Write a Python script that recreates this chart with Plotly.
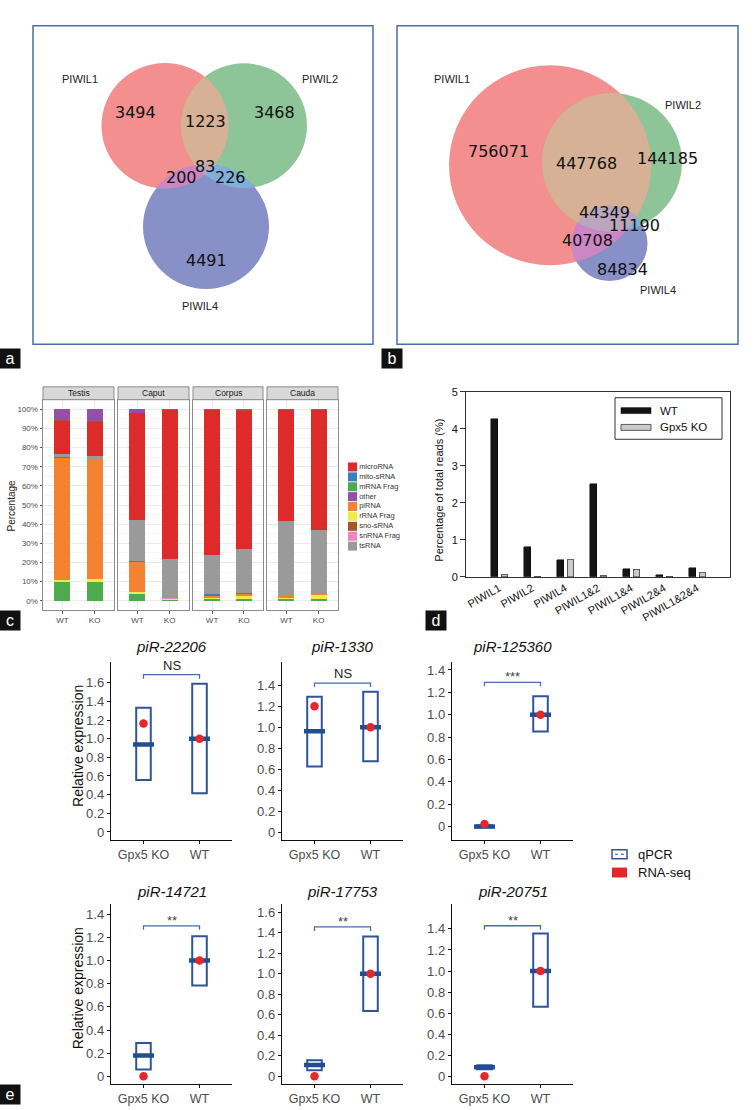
import numpy as np
import plotly.graph_objects as go

W, H = 756, 1110


def px(x):
    return x / W


def py(y):
    return 1 - y / H


# ---------------- DATA ----------------
VENN_NAMES = ["PIWIL1", "PIWIL2", "PIWIL4"]
# regions: only1, 1&2, only2, 1&2&4, 1&4, 2&4, only4
VENN_A_COUNTS = [3494, 1223, 3468, 83, 200, 226, 4491]
VENN_B_COUNTS = [756071, 447768, 144185, 44349, 40708, 11190, 84834]

C_TISSUES = ["Testis", "Caput", "Corpus", "Cauda"]
C_GROUPS = ["WT", "KO"]
# percentages per sample: Testis WT, Testis KO, Caput WT, Caput KO, Corpus WT, Corpus KO, Cauda WT, Cauda KO
MRNA_FRAG = [9.9, 9.9, 3.6, 0.6, 1.0, 1.1, 0.8, 1.2]
RRNA_FRAG = [1.1, 1.7, 1.2, 0.6, 0.6, 1.4, 0.8, 1.8]
SNRNA_FRAG = [0.05, 0.05, 0.05, 0.05, 0.05, 0.05, 0.05, 0.05]
PIRNA = [63.7, 62.4, 15.6, 0.8, 1.0, 1.0, 0.7, 0.8]
MITO_SRNA = [0.1, 0.1, 0.1, 0.1, 1.0, 0.3, 0.1, 0.4]
TSRNA = [1.6, 1.4, 21.6, 19.5, 20.2, 23.4, 39.2, 32.8]
MICRORNA = [17.55, 17.95, 55.65, 78.05, 75.85, 71.95, 58.05, 62.65]
SNO_SRNA = [0.3, 0.3, 0.3, 0.1, 0.1, 0.3, 0.1, 0.1]
OTHER = [5.7, 6.2, 1.9, 0.2, 0.2, 0.5, 0.2, 0.2]
C_LEGEND = ["microRNA", "mito-sRNA", "mRNA Frag", "other", "piRNA",
            "rRNA Frag", "sno-sRNA", "snRNA Frag", "tsRNA"]
PCT_TICKS = [0, 0.1, 0.2, 0.3, 0.4, 0.5, 0.6, 0.7, 0.8, 0.9, 1.0]
PCT_LABELS = ["0%", "10%", "20%", "30%", "40%", "50%", "60%", "70%", "80%", "90%", "100%"]

D_CATS = ["PIWIL1", "PIWIL2", "PIWIL4", "PIWIL1&2", "PIWIL1&4", "PIWIL2&4", "PIWIL1&2&4"]
D_WT = [4.27, 0.81, 0.46, 2.52, 0.22, 0.05, 0.24]
D_KO = [0.05, 0.01, 0.46, 0.03, 0.20, 0.01, 0.11]
D_SERIES = ["WT", "Gpx5 KO"]

E_TITLES = ["piR-22206", "piR-1330", "piR-125360", "piR-14721", "piR-17753", "piR-20751"]
E_CATS = ["Gpx5 KO", "WT"]
E_Q_LOW = [[0.556, 0.414], [0.626, 0.676], [0.0, 0.85], [0.06, 0.784], [0.058, 0.636], [0.066, 0.661]]
E_Q_MED = [[0.937, 1.0], [0.96, 1.0], [0.0, 1.0], [0.18, 1.0], [0.109, 1.0], [0.085, 1.0]]
E_Q_HIGH = [[1.333, 1.588], [1.29, 1.337], [0.012, 1.165], [0.288, 1.21], [0.157, 1.362], [0.106, 1.356]]
E_RNASEQ = [[1.163, 1.0], [1.20, 1.0], [0.024, 1.0], [0.0, 1.0], [0.0, 1.0], [0.0, 1.0]]
E_SIG = ["NS", "NS", "***", "**", "**", "**"]
E_BRACKET = [1.686, 1.42, 1.29, 1.30, 1.455, 1.43]
E_YTICKS = [
    [0, 0.2, 0.4, 0.6, 0.8, 1.0, 1.2, 1.4, 1.6],
    [0, 0.2, 0.4, 0.6, 0.8, 1.0, 1.2, 1.4],
    [0, 0.2, 0.4, 0.6, 0.8, 1.0, 1.2, 1.4],
    [0, 0.2, 0.4, 0.6, 0.8, 1.0, 1.2, 1.4],
    [0, 0.2, 0.4, 0.6, 0.8, 1.0, 1.2, 1.4, 1.6],
    [0, 0.2, 0.4, 0.6, 0.8, 1.0, 1.2, 1.4],
]
E_LEGEND = ["qPCR", "RNA-seq"]

# ---------------- STYLE / LAYOUT CONSTANTS ----------------
FONT = "Liberation Sans, Arial, sans-serif"
BLUE = "#2E5597"
MED_BLUE = "#1F4F91"
RED = "#E8262A"
C_COLORS = {"microRNA": "#DD2B2B", "mito-sRNA": "#3A7EBB", "mRNA Frag": "#4DAA4F",
            "other": "#9450A8", "piRNA": "#F58230", "rRNA Frag": "#F2EA4A",
            "sno-sRNA": "#A65628", "snRNA Frag": "#F282C0", "tsRNA": "#9A9A9A"}
C_STACK = [("mRNA Frag", MRNA_FRAG), ("rRNA Frag", RRNA_FRAG), ("snRNA Frag", SNRNA_FRAG),
           ("piRNA", PIRNA), ("mito-sRNA", MITO_SRNA), ("tsRNA", TSRNA),
           ("microRNA", MICRORNA), ("sno-sRNA", SNO_SRNA), ("other", OTHER)]

fig = go.Figure()
shapes = []
annots = []
layout = dict(width=W, height=H, margin=dict(l=0, r=0, t=0, b=0),
              paper_bgcolor="white", plot_bgcolor="white", showlegend=False,
              barmode="stack", font=dict(family=FONT, color="#222"))


def ann(x, y, text, size, color="#111", **kw):
    d = dict(x=px(x), y=py(y), xref="paper", yref="paper", text=text, showarrow=False,
             xanchor="center", yanchor="middle", font=dict(size=size, color=color))
    d.update(kw)
    annots.append(d)


# ---------------- Venn panels (a, b) ----------------
VENN_A_GEOM = [(165, 121, 63.5), (244, 121, 63), (206, 223, 63)]
VENN_B_GEOM = [(550, 161, 101), (612, 158, 70), (609.5, 240, 38)]
VENN_A_TXT = [(135, 108), (205, 117), (274, 108), (205, 162), (181, 173), (230, 173), (206, 257)]
VENN_B_TXT = [(499, 147), (586, 159), (667, 154), (604, 209), (587, 237), (634, 222), (622, 266)]
VENN_A_LBL = [(80, 74), (320, 74), (200, 303)]
VENN_B_LBL = [(452, 74), (683, 100), (658, 287)]
VC = {"R": "rgb(243,143,143)", "G": "rgb(141,196,152)", "B": "rgb(136,144,200)",
      "RG": "rgb(214,177,150)", "RB": "rgb(204,134,196)", "GB": "rgb(128,176,218)",
      "RGB": "rgb(188,166,190)"}


def circ_pts(c, n=720):
    cx, cy, r = c
    t = np.linspace(0, 2 * np.pi, n, endpoint=False)
    return np.column_stack([cx + r * np.cos(t), cy + r * np.sin(t)])


def inter_poly(circles):
    pts = []
    for i, c in enumerate(circles):
        P = circ_pts(c)
        m = np.ones(len(P), bool)
        for j, d in enumerate(circles):
            if j != i:
                m &= (P[:, 0] - d[0]) ** 2 + (P[:, 1] - d[1]) ** 2 <= d[2] ** 2
        pts.append(P[m])
    P = np.vstack(pts)
    cx, cy = P.mean(0)
    return P[np.argsort(np.arctan2(P[:, 1] - cy, P[:, 0] - cx))]


def path_of(P):
    return "M " + " L ".join(f"{px(x):.5f},{py(y):.5f}" for x, y in P) + " Z"


def venn(geom, counts, txt, lbl, box):
    shapes.append(dict(type="rect", xref="paper", yref="paper", x0=px(box[0]), x1=px(box[1]),
                       y0=py(box[3]), y1=py(box[2]), line=dict(color="#4A6FA5", width=1.5)))
    for (cx, cy, r), k in zip(geom, ["R", "G", "B"]):
        shapes.append(dict(type="circle", xref="paper", yref="paper", x0=px(cx - r), x1=px(cx + r),
                           y0=py(cy + r), y1=py(cy - r), fillcolor=VC[k], line=dict(width=0)))
    R, G, B = geom
    for combo, k in [((R, G), "RG"), ((R, B), "RB"), ((G, B), "GB"), ((R, G, B), "RGB")]:
        shapes.append(dict(type="path", xref="paper", yref="paper", path=path_of(inter_poly(combo)),
                           fillcolor=VC[k], line=dict(width=0)))
    for (x, y), v in zip(txt, counts):
        ann(x, y, str(v), 16, "#111")
        annots[-1]["font"]["family"] = "DejaVu Sans"
    for (x, y), name in zip(lbl, VENN_NAMES):
        ann(x, y, name, 11, "#222")


venn(VENN_A_GEOM, VENN_A_COUNTS, VENN_A_TXT, VENN_A_LBL, (33, 373, 20, 342))
venn(VENN_B_GEOM, VENN_B_COUNTS, VENN_B_TXT, VENN_B_LBL, (397, 738, 20, 342))

# ---------------- Panel c: stacked bars ----------------
C_XDOM = [(43, 114), (118, 189), (193, 263), (267, 338)]
C_YDOM = (398, 611)
for i, tissue in enumerate(C_TISSUES):
    n = "" if i == 0 else str(i + 1)
    for name, vals in C_STACK:
        fig.add_trace(go.Bar(x=C_GROUPS, y=[v / 100 for v in vals[2 * i:2 * i + 2]], name=name,
                             width=0.5, marker=dict(color=C_COLORS[name], line=dict(width=0)),
                             xaxis="x" + n, yaxis="y" + n, hoverinfo="skip"))
    layout["xaxis" + n] = dict(domain=[px(C_XDOM[i][0]), px(C_XDOM[i][1])], anchor="y" + n,
                               type="category", categoryarray=C_GROUPS, range=[-0.6, 1.6],
                               showline=True, mirror=True, linecolor="#8C8C8C", linewidth=1,
                               showgrid=True, gridcolor="#EBEBEB", zeroline=False,
                               ticks="outside", ticklen=2.5, tickcolor="#555",
                               tickfont=dict(size=8, color="#4D4D4D"))
    layout["yaxis" + n] = dict(domain=[py(C_YDOM[1]), py(C_YDOM[0])], anchor="x" + n,
                               range=[-0.05, 1.05], tickvals=PCT_TICKS, ticktext=PCT_LABELS,
                               showticklabels=(i == 0), ticks="outside" if i == 0 else "",
                               ticklen=2.5, tickcolor="#555",
                               tickfont=dict(size=8, color="#4D4D4D"),
                               showline=True, mirror=True, linecolor="#8C8C8C", linewidth=1,
                               showgrid=True, gridcolor="#EBEBEB", zeroline=False,
                               minor=dict(tickvals=[0.05 + 0.1 * k for k in range(10)],
                                          showgrid=True, gridcolor="#F6F6F6", ticks=""))
    shapes.append(dict(type="rect", xref="paper", yref="paper", x0=px(C_XDOM[i][0]), x1=px(C_XDOM[i][1]),
                       y0=py(398), y1=py(385), fillcolor="#D9D9D9", line=dict(color="#8C8C8C", width=1)))
    ann((C_XDOM[i][0] + C_XDOM[i][1]) / 2, 391.5, tissue, 8.5, "#1A1A1A")
ann(12, 505, "Percentage", 10, "#222", textangle=-90)

# legend for c (drawn on a hidden axis)
fig.add_trace(go.Scatter(x=[0] * len(C_LEGEND), y=C_LEGEND, mode="markers+text", text=C_LEGEND,
                         textposition="middle right", textfont=dict(size=7.5, color="#333"),
                         marker=dict(symbol="square", size=9, color=[C_COLORS[k] for k in C_LEGEND]),
                         xaxis="x12", yaxis="y12", hoverinfo="skip"))
layout["xaxis12"] = dict(domain=[px(348), px(420)], anchor="y12", range=[-4.5, 67.5], visible=False)
layout["yaxis12"] = dict(domain=[py(551), py(461)], anchor="x12", type="category",
                         categoryarray=C_LEGEND, range=[8.5, -0.5], visible=False)

# ---------------- Panel d: grouped bars ----------------
fig.add_trace(go.Bar(x=D_CATS, y=D_WT, name=D_SERIES[0], width=0.21, offset=-0.255,
                     marker=dict(color="#141414", line=dict(color="#000", width=0.5)),
                     xaxis="x5", yaxis="y5", hoverinfo="skip"))
fig.add_trace(go.Bar(x=D_CATS, y=D_KO, name=D_SERIES[1], width=0.19, offset=0.07,
                     marker=dict(color="#CACACA", line=dict(color="#3A3A3A", width=0.8)),
                     xaxis="x13", yaxis="y5", hoverinfo="skip"))
layout["xaxis5"] = dict(domain=[px(466), px(730)], anchor="y5", type="category", categoryarray=D_CATS,
                        range=[-1, 7], showline=True, mirror=True, linecolor="#333", linewidth=1,
                        ticks="", tickangle=-30, tickfont=dict(size=11, color="#111"), showgrid=False)
layout["xaxis13"] = dict(overlaying="x5", anchor="y5", type="category", categoryarray=D_CATS,
                         range=[-1, 7], visible=False)
layout["yaxis5"] = dict(domain=[py(577), py(390)], anchor="x5", range=[0, 5], dtick=1,
                        showline=True, mirror=True, linecolor="#333", linewidth=1,
                        ticks="outside", ticklen=5, tickcolor="#333", showgrid=False, zeroline=False,
                        tickfont=dict(size=11, color="#111"))
ann(439, 490, "Percentage of total reads (%)", 11, "#111", textangle=-90)
# legend d
shapes.append(dict(type="rect", xref="paper", yref="paper", x0=px(615), x1=px(722), y0=py(438), y1=py(396),
                   line=dict(color="#333", width=1), fillcolor="white"))
shapes.append(dict(type="rect", xref="paper", yref="paper", x0=px(621), x1=px(651), y0=py(412), y1=py(406),
                   line=dict(color="#000", width=0.5), fillcolor="#141414"))
shapes.append(dict(type="rect", xref="paper", yref="paper", x0=px(621), x1=px(651), y0=py(429), y1=py(423),
                   line=dict(color="#3A3A3A", width=0.8), fillcolor="#CACACA"))
for yy, t in zip([409, 426], D_SERIES):
    ann(658, yy, t, 11.5, "#111", xanchor="left")

# ---------------- Panel e: qPCR vs RNA-seq ----------------
E_XDOM = [(111, 232), (282, 403), (452, 573)]
E_YDOM = [(663, 843), (908, 1090)]
E_YRANGE = [[-0.085, 1.824], [-0.075, 1.623], [-0.119, 1.473],
            [-0.068, 1.487], [-0.077, 1.677], [-0.075, 1.635]]
for k in range(6):
    row, col = divmod(k, 3)
    n = str(6 + k)
    xa, ya = "x" + n, "y" + n
    fig.add_trace(go.Box(x=E_CATS, q1=E_Q_LOW[k], median=E_Q_MED[k], q3=E_Q_HIGH[k],
                         lowerfence=E_Q_LOW[k], upperfence=E_Q_HIGH[k], width=0.26,
                         fillcolor="white", line=dict(color=BLUE, width=2), boxpoints=False,
                         xaxis=xa, yaxis=ya, hoverinfo="skip", name=E_LEGEND[0]))
    fig.add_trace(go.Scatter(x=E_CATS, y=E_Q_MED[k], mode="markers",
                             marker=dict(symbol="line-ew", size=15, color=MED_BLUE,
                                         line=dict(color=MED_BLUE, width=4.5)),
                             xaxis=xa, yaxis=ya, hoverinfo="skip"))
    fig.add_trace(go.Scatter(x=E_CATS, y=E_RNASEQ[k], mode="markers",
                             marker=dict(symbol="circle", size=8.5, color=RED),
                             xaxis=xa, yaxis=ya, hoverinfo="skip", name=E_LEGEND[1]))
    span = E_YRANGE[k][1] - E_YRANGE[k][0]
    hpx = E_YDOM[row][1] - E_YDOM[row][0]
    drop = 4 * span / hpx
    b = E_BRACKET[k]
    fig.add_trace(go.Scatter(x=[E_CATS[0], E_CATS[0], E_CATS[1], E_CATS[1]], y=[b - drop, b, b, b - drop],
                             mode="lines", line=dict(color="#4A6BB0", width=1.3),
                             xaxis=xa, yaxis=ya, hoverinfo="skip"))
    star = E_SIG[k] != "NS"
    annots.append(dict(x=0.5, y=b, xref=xa, yref=ya, text=E_SIG[k], showarrow=False,
                       xanchor="center", yanchor="bottom", yshift=-4 if star else 0,
                       font=dict(size=13, color="#444" if star else "#222")))
    layout["xaxis" + n] = dict(domain=[px(E_XDOM[col][0]), px(E_XDOM[col][1])], anchor=ya,
                               type="category", categoryarray=E_CATS, range=[-0.58, 1.58],
                               showline=True, linecolor="#111", linewidth=1.2, ticks="outside",
                               ticklen=3, tickcolor="#111", showgrid=False, zeroline=False,
                               tickfont=dict(size=12.5, color="#4D4D4D"))
    layout["yaxis" + n] = dict(domain=[py(E_YDOM[row][1]), py(E_YDOM[row][0])], anchor=xa,
                               range=E_YRANGE[k], tickvals=E_YTICKS[k],
                               ticktext=["0" if v == 0 else f"{v:.1f}" for v in E_YTICKS[k]],
                               showline=True, linecolor="#111", linewidth=1.2, ticks="outside",
                               ticklen=3, tickcolor="#111", showgrid=False, zeroline=False,
                               tickfont=dict(size=13, color="#4D4D4D"))
    ann((E_XDOM[col][0] + E_XDOM[col][1]) / 2, 648 if row == 0 else 895,
        "<i>" + E_TITLES[k] + "</i>", 15, "#111")
for yy in [748, 993]:
    ann(78, yy, "Relative expression", 14, "#111", textangle=-90)
# legend e
shapes.append(dict(type="rect", xref="paper", yref="paper", x0=px(612), x1=px(627), y0=py(862), y1=py(853),
                   line=dict(color=BLUE, width=1.5), fillcolor="white"))
shapes.append(dict(type="line", xref="paper", yref="paper", x0=px(615), x1=px(624), y0=py(857.5), y1=py(857.5),
                   line=dict(color=BLUE, width=1, dash="dot")))
shapes.append(dict(type="rect", xref="paper", yref="paper", x0=px(612), x1=px(627), y0=py(881), y1=py(871),
                   line=dict(width=0), fillcolor=RED))
for yy, t in zip([857.5, 876], E_LEGEND):
    ann(636, yy, t, 13, "#111", xanchor="left")

# ---------------- panel letters ----------------
for t, (x, y) in zip(["a", "b", "c", "d", "e"],
                     [(10, 356), (392, 356), (10, 621), (436, 621), (10, 1100)]):
    ann(x, y, t, 16, "white", bgcolor="#111", width=18, height=17)

layout["shapes"] = shapes
layout["annotations"] = annots
fig.update_layout(**layout)
fig.write_html("out.html", config=dict(displayModeBar=False, staticPlot=True),
               post_script="document.body.style.margin='0';document.body.style.overflow='hidden';")
